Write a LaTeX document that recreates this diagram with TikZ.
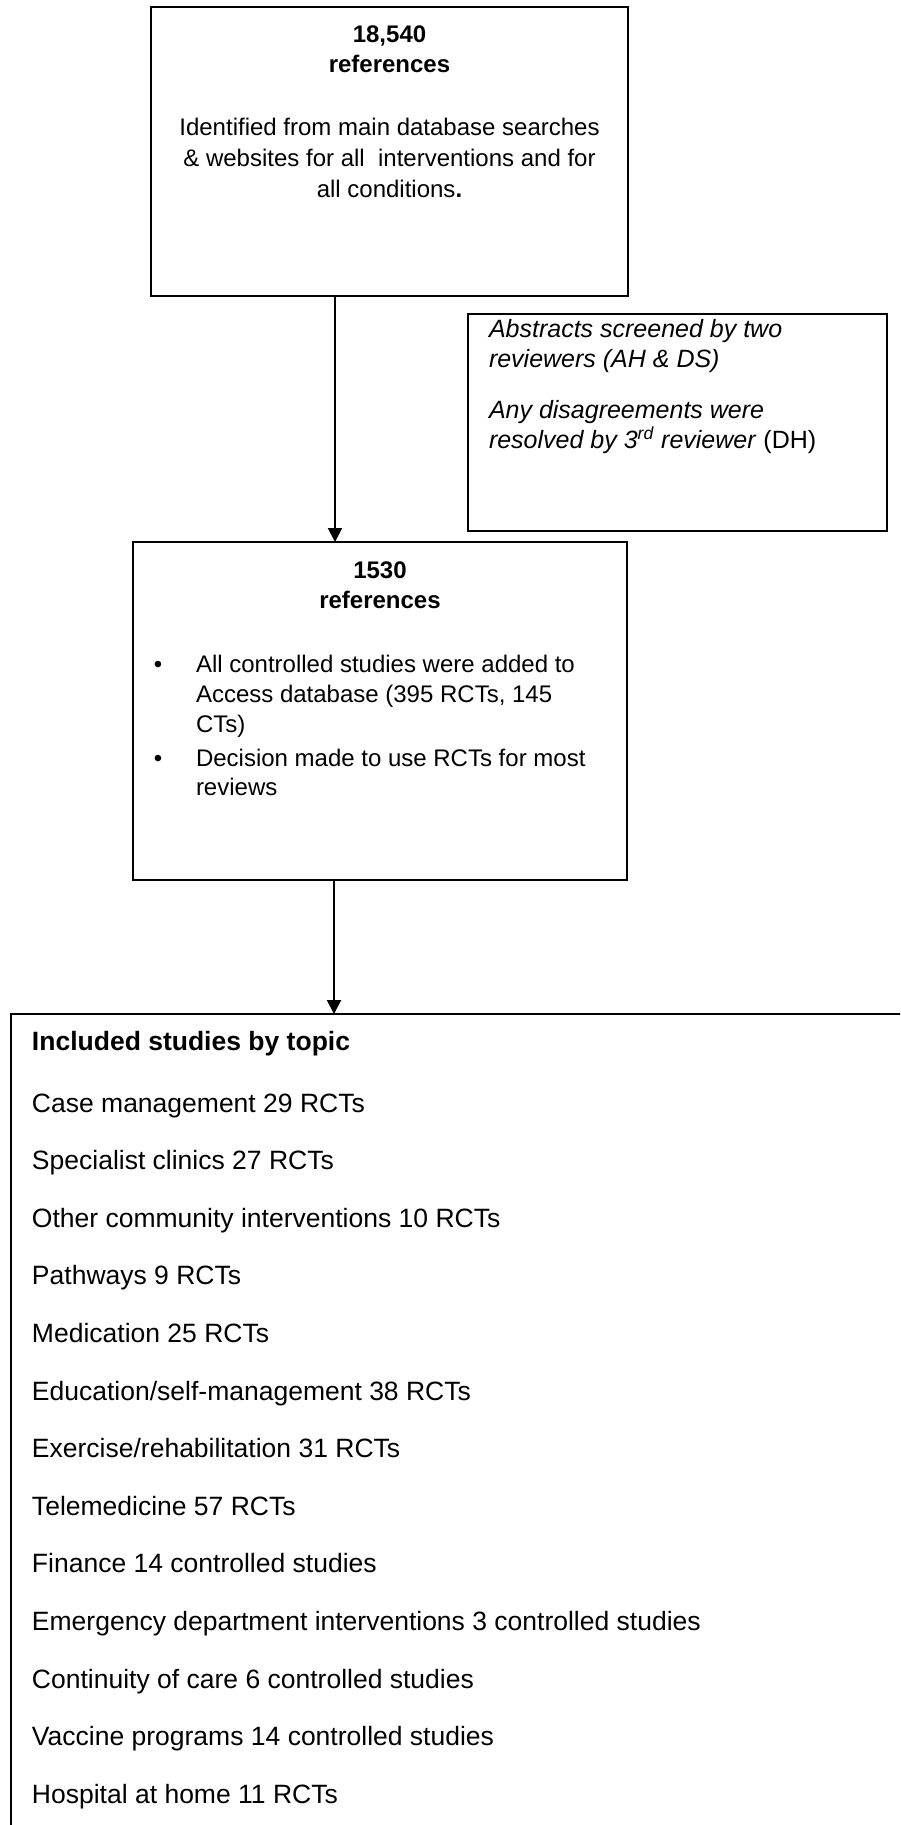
\documentclass[tikz,border=0pt]{standalone}
\usepackage{fontspec}
\setmainfont{Liberation Sans}
\usetikzlibrary{arrows.meta}
\tikzset{
  boxnode/.style={draw=black, line width=1pt, rectangle, inner sep=0pt, outer sep=0pt},
  arr/.style={line width=1pt, -{Triangle[length=7pt,width=7pt]}},
  txt/.style={anchor=base, inner sep=0pt, outer sep=0pt, font=\fontsize{12}{15}\selectfont},
  txtl/.style={anchor=base west, inner sep=0pt, outer sep=0pt, font=\fontsize{12}{15}\selectfont},
  sidetxt/.style={anchor=base west, inner sep=0pt, outer sep=0pt, font=\fontsize{12.5}{15}\selectfont\itshape},
  listtxt/.style={anchor=base west, inner sep=0pt, outer sep=0pt, font=\fontsize{13.25}{16}\selectfont},
}
\begin{document}
\begin{tikzpicture}[x=0.5pt,y=-0.5pt]
\useasboundingbox (0,0) rectangle (900,1825);
\clip (0,0) rectangle (900,1825);
\fill[white] (0,0) rectangle (900,1825);

% boxes
\node[boxnode, minimum width=238.5pt, minimum height=144.5pt] (b1) at (389.5,151.5) {};
\node[boxnode, minimum width=209.5pt, minimum height=108.5pt] (side) at (677.5,422.5) {};
\node[boxnode, minimum width=247pt, minimum height=169pt] (b3) at (380,711) {};
\node[boxnode, minimum width=454.5pt, minimum height=418pt] (b4) at (465.5,1432) {};

% box 1 text
\node[txt] (t11) at (389.5,43) {\bfseries 18,540};
\node[txt] (t12) at (389.5,73) {\bfseries references};
\node[txt] (t13) at (389.5,135) {Identified from main database searches};
\node[txt] (t14) at (389.5,166) {\& websites for all\ \ interventions and for};
\node[txt] (t15) at (389.5,197) {all conditions\textbf{.}};

% side text
\node[sidetxt] (s1) at (489,337) {Abstracts screened by two};
\node[sidetxt] (s2) at (489,367) {reviewers (AH \& DS)};
\node[sidetxt] (s3) at (489,418) {Any disagreements were};
\node[sidetxt] (s4) at (489,448) {resolved by 3\textsuperscript{rd} reviewer\/ \upshape(DH)};

% box 3 text
\node[txt] (t31) at (380,578) {\bfseries 1530};
\node[txt] (t32) at (380,608) {\bfseries references};
\node[txt] (bul1) at (158,672) {•};
\node[txtl] (t33) at (196,672) {All controlled studies were added to};
\node[txtl] (t34) at (196,702) {Access database (395 RCTs, 145};
\node[txtl] (t35) at (196,732) {CTs)};
\node[txt] (bul2) at (158,766) {•};
\node[txtl] (t36) at (196,766) {Decision made to use RCTs for most};
\node[txtl] (t37) at (196,795) {reviews};

% bottom list
\node[listtxt] (h) at (32,1050) {\bfseries Included studies by topic};
\foreach \t [count=\i from 0] in {
  Case management 29 RCTs,
  Specialist clinics 27 RCTs,
  Other community interventions 10 RCTs,
  Pathways 9 RCTs,
  Medication 25 RCTs,
  Education/self-management 38 RCTs,
  Exercise/rehabilitation 31 RCTs,
  Telemedicine 57 RCTs,
  Finance 14 controlled studies,
  Emergency department interventions 3 controlled studies,
  Continuity of care 6 controlled studies,
  Vaccine programs 14 controlled studies,
  Hospital at home 11 RCTs}
  \node[listtxt] (l\i) at (32,1112+57.6*\i) {\t};

% connectors
\coordinate (ax1) at (335,0);
\coordinate (ax2) at (334,0);
\draw[arr] (b1.south -| ax1) -- (b3.north -| ax1);
\draw[arr] (b3.south -| ax2) -- (b4.north -| ax2);
\end{tikzpicture}
\end{document}
